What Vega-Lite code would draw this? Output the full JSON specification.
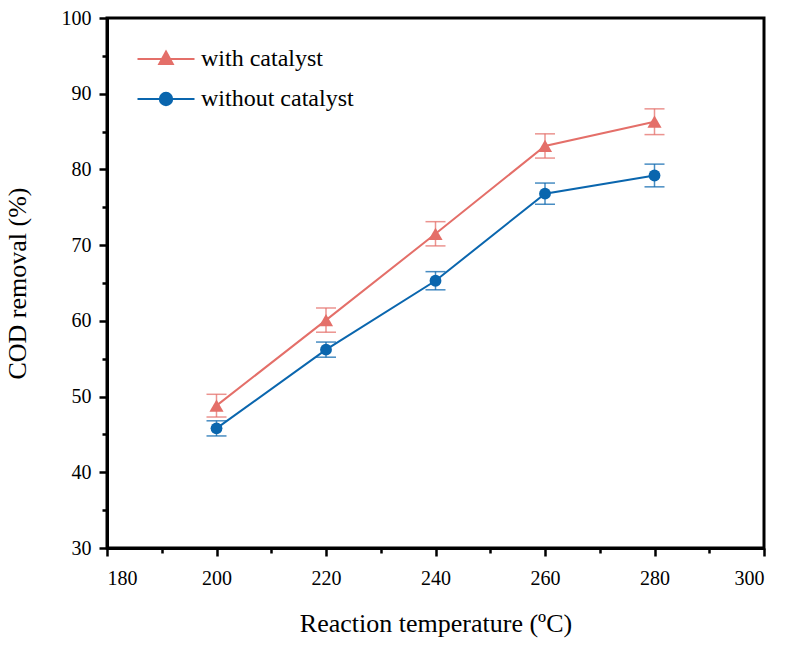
{
  "$schema": "https://vega.github.io/schema/vega-lite/v6.json",
  "width": 657,
  "height": 530,
  "autosize": {"type": "none"},
  "padding": {"left": 107, "top": 18, "right": 24, "bottom": 97},
  "background": "white",
  "config": {
    "view": {"stroke": "black", "strokeWidth": 3},
    "font": "Liberation Serif",
    "axis": {
      "labelFont": "Liberation Serif",
      "titleFont": "Liberation Serif",
      "labelColor": "black",
      "titleColor": "black",
      "titleFontWeight": "normal",
      "domainColor": "black",
      "domainWidth": 3,
      "tickColor": "black",
      "tickWidth": 2.5,
      "grid": false
    },
    "legend": {"labelFont": "Liberation Serif"}
  },
  "data": {
    "values": [
      {"T": 200, "series": "with catalyst", "cod": 48.8, "err": 1.5},
      {"T": 220, "series": "with catalyst", "cod": 60.1, "err": 1.6},
      {"T": 240, "series": "with catalyst", "cod": 71.5, "err": 1.6},
      {"T": 260, "series": "with catalyst", "cod": 83.1, "err": 1.6},
      {"T": 280, "series": "with catalyst", "cod": 86.3, "err": 1.7},
      {"T": 200, "series": "without catalyst", "cod": 45.8, "err": 1.0},
      {"T": 220, "series": "without catalyst", "cod": 56.2, "err": 1.0},
      {"T": 240, "series": "without catalyst", "cod": 65.3, "err": 1.2},
      {"T": 260, "series": "without catalyst", "cod": 76.8, "err": 1.4},
      {"T": 280, "series": "without catalyst", "cod": 79.2, "err": 1.5}
    ]
  },
  "layer": [
    {
      "mark": {"type": "line", "strokeWidth": 2},
      "encoding": {
        "x": {
          "field": "T", "type": "quantitative",
          "scale": {"domain": [180, 300], "nice": false, "zero": false},
          "axis": {
            "orient": "bottom",
            "values": [180, 200, 220, 240, 260, 280, 300],
            "tickSize": 8,
            "labelFont": "Liberation Serif",
            "labelFontSize": 20,
            "labelPadding": 12,
            "title": "Reaction temperature (ºC)",
            "titleFont": "Liberation Serif",
            "titleFontSize": 26,
            "titlePadding": 22
          }
        },
        "y": {
          "field": "cod", "type": "quantitative",
          "scale": {"domain": [30, 100], "nice": false, "zero": false},
          "axis": {
            "orient": "left",
            "values": [30, 40, 50, 60, 70, 80, 90, 100],
            "tickSize": 8,
            "labelFont": "Liberation Serif",
            "labelFontSize": 20,
            "labelPadding": 8,
            "title": "COD removal (%)",
            "titleFont": "Liberation Serif",
            "titleFontSize": 26,
            "titlePadding": 31
          }
        },
        "color": {
          "field": "series", "type": "nominal",
          "scale": {"domain": ["with catalyst", "without catalyst"], "range": ["#E46F69", "#0A66AE"]},
          "legend": {
            "title": null,
            "orient": "none",
            "legendX": 47,
            "legendY": 29,
            "padding": 0,
            "symbolSize": 400,
            "symbolStrokeWidth": 2,
            "labelFont": "Liberation Serif",
            "labelFontSize": 24,
            "labelColor": "black",
            "labelOffset": 23,
            "rowPadding": 16,
            "encode": {
              "symbols": {
                "update": {
                  "shape": {"signal": "datum.value === 'with catalyst' ? 'M-2.85,0H2.85M0,-0.75L0.68,0.5L-0.68,0.5Z' : 'M-2.85,0H2.85M-0.62,0A0.62,0.62,0,1,0,0.62,0A0.62,0.62,0,1,0,-0.62,0Z'"},
                  "fill": {"scale": "color", "field": "value"},
                  "stroke": {"scale": "color", "field": "value"},
                  "strokeWidth": {"value": 2},
                  "fillOpacity": {"value": 1},
                  "opacity": {"value": 1}
                }
              }
            }
          }
        }
      }
    },
    {
      "mark": {"type": "errorbar", "ticks": {"size": 20, "thickness": 1.5}, "rule": {"strokeWidth": 1.5}, "opacity": 0.75},
      "encoding": {
        "x": {"field": "T", "type": "quantitative", "axis": null},
        "y": {"field": "cod", "type": "quantitative", "axis": null},
        "yError": {"field": "err"},
        "color": {"field": "series", "type": "nominal", "legend": null}
      }
    },
    {
      "transform": [{"filter": {"field": "series", "equal": "with catalyst"}}],
      "mark": {"type": "point", "shape": "triangle-up", "filled": true, "opacity": 1, "size": 200},
      "encoding": {
        "x": {
          "field": "T", "type": "quantitative",
          "axis": {
            "orient": "bottom",
            "values": [190, 210, 230, 250, 270, 290],
            "tickSize": 5,
            "labels": false,
            "domain": false,
            "title": null
          }
        },
        "y": {
          "field": "cod", "type": "quantitative",
          "axis": {
            "orient": "left",
            "values": [35, 45, 55, 65, 75, 85, 95],
            "tickSize": 5,
            "labels": false,
            "domain": false,
            "title": null
          }
        },
        "color": {"field": "series", "type": "nominal", "legend": null}
      }
    },
    {
      "transform": [{"filter": {"field": "series", "equal": "without catalyst"}}],
      "mark": {"type": "point", "shape": "circle", "filled": true, "opacity": 1, "size": 140},
      "encoding": {
        "x": {"field": "T", "type": "quantitative", "axis": null},
        "y": {"field": "cod", "type": "quantitative", "axis": null},
        "color": {"field": "series", "type": "nominal", "legend": null}
      }
    }
  ],
  "resolve": {"axis": {"x": "independent", "y": "independent"}}
}
